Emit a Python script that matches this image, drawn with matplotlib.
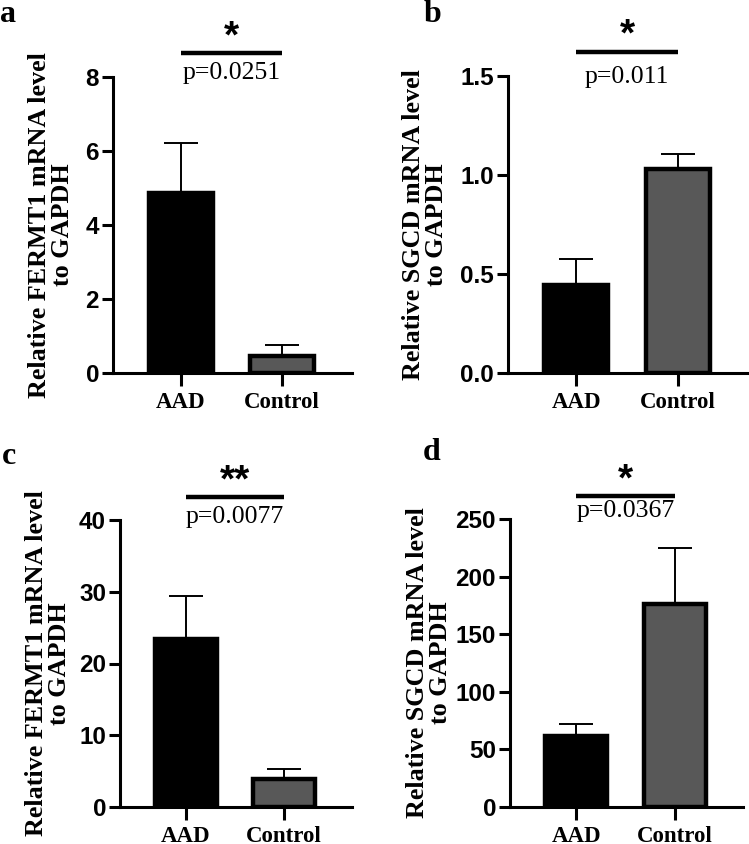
import matplotlib
matplotlib.use("Agg")
import matplotlib.pyplot as plt
from matplotlib.ticker import FormatStrFormatter
import matplotlib.transforms as mtransforms

# --- data ---
groups = ["AAD", "Control"]

fermt1_a_mean = [4.86, 0.47]
fermt1_a_err = [1.36, 0.29]
sgcd_b_mean = [0.443, 1.03]
sgcd_b_err = [0.133, 0.076]
fermt1_c_mean = [23.4, 3.86]
fermt1_c_err = [6.0, 1.44]
sgcd_d_mean = [61.4, 176.0]
sgcd_d_err = [10.6, 49.0]

panel_letters = ["a", "b", "c", "d"]
ylabels = ["Relative FERMT1 mRNA level\nto GAPDH",
           "Relative SGCD mRNA level\nto GAPDH",
           "Relative FERMT1 mRNA level\nto GAPDH",
           "Relative SGCD mRNA level\nto GAPDH"]
pvalues = ["p=0.0251", "p=0.011", "p=0.0077", "p=0.0367"]
stars = ["*", "*", "**", "*"]
yticks = [[0, 2, 4, 6, 8],
          [0.0, 0.5, 1.0, 1.5],
          [0, 10, 20, 30, 40],
          [0, 50, 100, 150, 200, 250]]
tick_fmt = ["%d", "%.1f", "%d", "%d"]

means = [fermt1_a_mean, sgcd_b_mean, fermt1_c_mean, sgcd_d_mean]
errs = [fermt1_a_err, sgcd_b_err, fermt1_c_err, sgcd_d_err]

bar_colors = ["black", "#585858"]

SERIF = "Liberation Serif"
SANS = "Liberation Sans"

W, H = 749, 844
fig = plt.figure(figsize=(W / 100, H / 100), dpi=100)

# axes boxes in pixels: left, right, top, bottom
boxes = [(113, 352, 77, 373),
         (508, 748, 76, 373),
         (120, 352, 520, 807),
         (510, 743, 519, 807)]
label_x = [-0.26, -0.346, -0.31, -0.348]
p_y = [1.013, 0.997, 1.010, 1.028]
letter_pos = [(8, 14), (432, 14), (9, 456), (432, 452)]

for i in range(4):
    l, r, t, b = boxes[i]
    ax = fig.add_axes([l / W, 1 - b / H, (r - l) / W, (b - t) / H])
    x = [0, 1]
    ax.bar(x, means[i], width=0.63, color=bar_colors, edgecolor="black",
           linewidth=3.2, zorder=2)
    ax.errorbar(x, means[i], yerr=[[0, 0], errs[i]], fmt="none",
                ecolor="black", elinewidth=1.4, capsize=12, capthick=1.4,
                zorder=1)

    ax.set_xlim(-0.67, 1.69)
    ax.set_ylim(yticks[i][0], yticks[i][-1])
    ax.set_yticks(yticks[i])
    ax.yaxis.set_major_formatter(FormatStrFormatter(tick_fmt[i]))
    ax.set_xticks(x)
    ax.set_xticklabels(groups, fontfamily=SERIF, fontweight="bold",
                       fontsize=16.5)
    for lab in ax.get_yticklabels():
        lab.set_fontfamily(SANS)
        lab.set_fontweight("bold")
        lab.set_fontsize(17.5)

    for side in ["top", "right"]:
        ax.spines[side].set_visible(False)
    for side in ["left", "bottom"]:
        ax.spines[side].set_linewidth(2.2)
    ax.tick_params(axis="y", length=8, width=2.2, pad=2)
    ax.tick_params(axis="x", length=9, width=2.2, pad=5)

    ax.text(label_x[i], 0.5, ylabels[i], transform=ax.transAxes,
            rotation=90, ha="center", va="center", multialignment="center",
            fontfamily=SERIF, fontweight="bold", fontsize=18.8,
            linespacing=1.0)

    # significance bar
    trans = mtransforms.blended_transform_factory(ax.transData, ax.transAxes)
    ax.plot(x, [1.08, 1.08], color="black", linewidth=3.2, transform=trans,
            clip_on=False, solid_capstyle="butt")
    ax.text(0.5, 1.135, stars[i], transform=trans, ha="center", va="center",
            fontfamily=SANS, fontweight="bold", fontsize=28)
    ax.text(0.5, p_y[i], pvalues[i], transform=trans, ha="center",
            va="center", fontfamily=SERIF, fontsize=18.5)

    lx, ly = letter_pos[i]
    fig.text(lx / W, 1 - ly / H, panel_letters[i], ha="center", va="center",
             fontfamily=SERIF, fontweight="bold", fontsize=23)

fig.savefig("out.png", dpi=100)
